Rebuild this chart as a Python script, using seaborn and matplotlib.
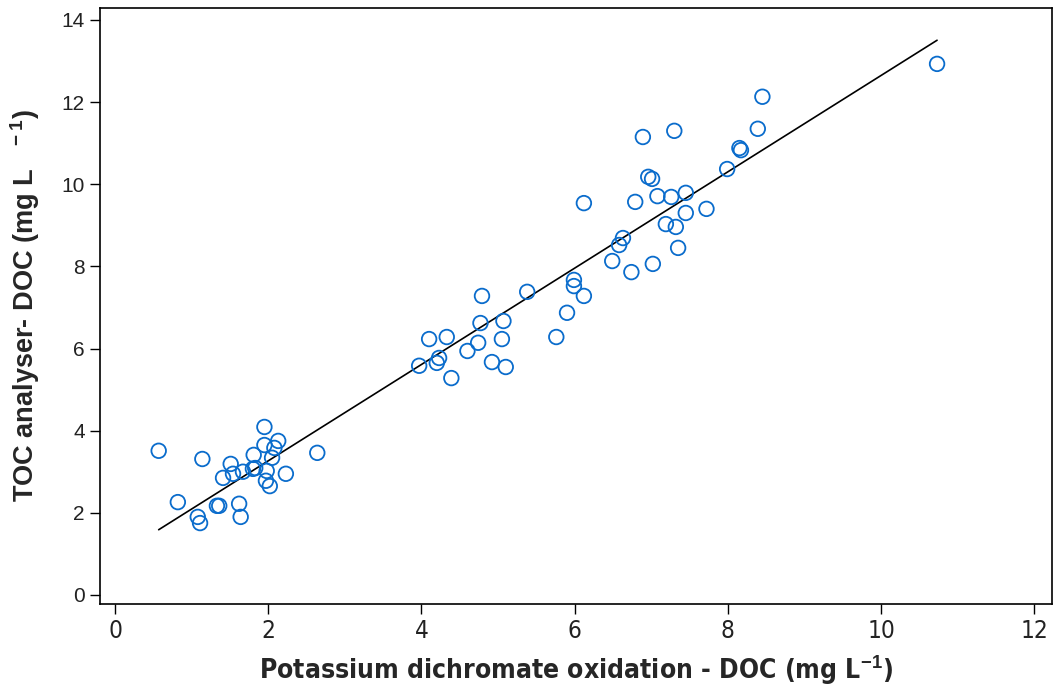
import numpy as np
import pandas as pd
import matplotlib
matplotlib.use("Agg")
import matplotlib.pyplot as plt
import seaborn as sns

# Paired DOC measurements (mg L-1): dichromate oxidation vs TOC analyser
dichromate_doc = [
    0.57, 1.14, 0.82, 1.08, 1.11, 1.33, 1.36, 1.62, 1.64, 1.51,
    1.41, 1.54, 1.67, 1.81, 1.80, 1.83, 1.95, 1.95, 2.13, 2.08,
    2.05, 1.98, 1.97, 2.02, 2.23, 2.64,
    4.79, 5.38, 4.77, 5.07, 4.10, 4.33, 5.05, 4.74, 4.60, 4.23,
    4.20, 3.97, 4.92, 5.10, 4.39,
    5.76, 5.90, 5.99, 5.99, 6.12, 6.12, 6.49, 6.58, 6.63, 6.74,
    7.02, 7.35, 7.19, 7.32, 6.79, 7.08, 7.26, 7.45, 7.45, 7.72,
    6.96, 7.01, 6.89, 7.30, 7.99, 8.15, 8.17, 8.39, 8.45, 10.73,
]
toc_doc = [
    3.51, 3.31, 2.26, 1.90, 1.75, 2.17, 2.17, 2.22, 1.90, 3.19,
    2.85, 2.95, 3.00, 3.41, 3.07, 3.09, 4.09, 3.65, 3.75, 3.58,
    3.34, 3.02, 2.78, 2.65, 2.95, 3.46,
    7.28, 7.38, 6.62, 6.67, 6.23, 6.28, 6.23, 6.14, 5.94, 5.77,
    5.65, 5.58, 5.67, 5.55, 5.28,
    6.28, 6.87, 7.67, 7.52, 7.28, 9.54, 8.13, 8.52, 8.69, 7.86,
    8.06, 8.45, 9.03, 8.96, 9.57, 9.71, 9.69, 9.79, 9.30, 9.40,
    10.18, 10.13, 11.15, 11.30, 10.37, 10.88, 10.83, 11.35, 12.13, 12.93,
]
x_ticks = [0, 2, 4, 6, 8, 10, 12]
y_ticks = [0, 2, 4, 6, 8, 10, 12, 14]

df = pd.DataFrame({"dichromate": dichromate_doc, "toc": toc_doc})

sns.set_style("white")
plt.rcParams["font.family"] = ["Liberation Sans", "DejaVu Sans"]
plt.rcParams["mathtext.fontset"] = "custom"
plt.rcParams["mathtext.rm"] = "Liberation Sans"
plt.rcParams["mathtext.bf"] = "Liberation Sans:bold"
plt.rcParams["mathtext.default"] = "bf"

fig = plt.figure(figsize=(10.56, 6.92), dpi=100)
ax = fig.add_axes([0.0947, 0.1272, 0.9015, 0.8612])

blue = "#0a6ccc"
sns.scatterplot(data=df, x="dichromate", y="toc", ax=ax, s=110,
                facecolors="none", edgecolor=blue, linewidth=1.3,
                zorder=3, legend=False)
sns.regplot(data=df, x="dichromate", y="toc", ax=ax, scatter=False,
            ci=None, truncate=True,
            line_kws=dict(color="black", linewidth=1.2, zorder=2))

ax.set_xlim(-0.196, 12.23)
ax.set_ylim(-0.22, 14.29)
ax.set_xticks(x_ticks)
ax.set_yticks(y_ticks)
ax.set_xticklabels([str(t) for t in x_ticks], family="DejaVu Sans",
                   fontstretch="condensed", fontsize=17.5)
ax.set_yticklabels([str(t) for t in y_ticks], fontsize=15)
ax.tick_params(axis="both", direction="out", length=7, width=1.0,
               color="black", labelcolor="#222222", pad=4,
               bottom=True, left=True)

for sp in ax.spines.values():
    sp.set_visible(True)
    sp.set_color("black")
    sp.set_linewidth(1.2)

ax.set_xlabel(r"Potassium dichromate oxidation - DOC (mg L$^{-1}$)",
              family="DejaVu Sans", fontstretch="condensed",
              fontweight="bold", fontsize=19, labelpad=8)
ax.set_ylabel(r"TOC analyser- DOC (mg L $^{\ \ -1}$)",
              fontweight="bold", fontsize=19.5, labelpad=14)

fig.savefig("out.png", dpi=100)
